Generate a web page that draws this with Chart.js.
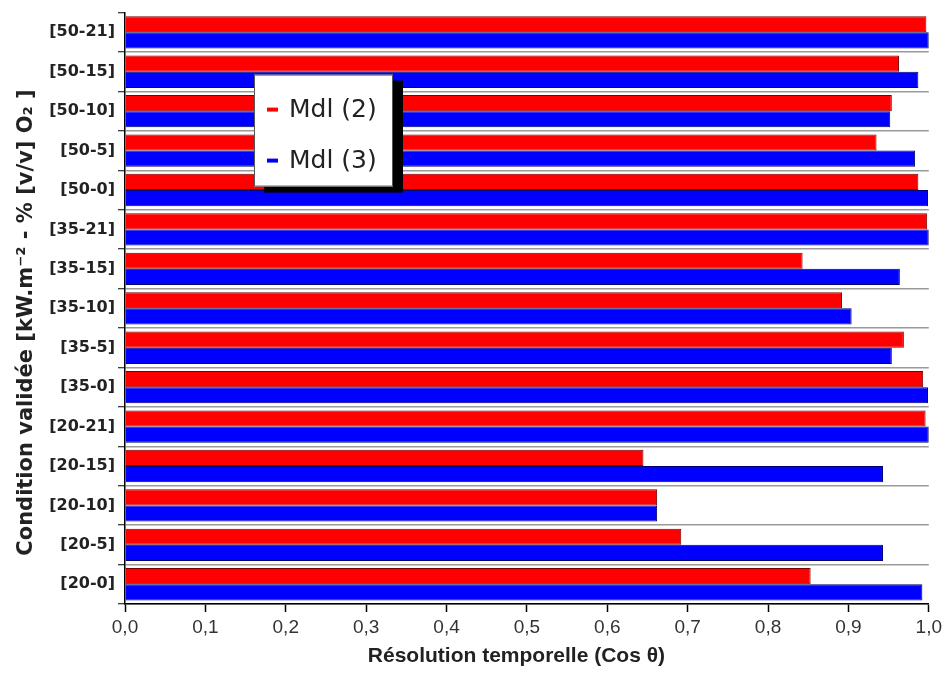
<!DOCTYPE html>
<html><head><meta charset="utf-8">
<script src="https://cdn.jsdelivr.net/npm/chart.js@4/dist/chart.umd.min.js"></script>
<style>html,body{margin:0;padding:0;background:#fff}#wrap{width:946px;height:673px}</style>
</head><body><div id="wrap"><canvas id="c" width="946" height="673"></canvas></div>
<script>
const categories = ['[50-21]','[50-15]','[50-10]','[50-5]','[50-0]','[35-21]','[35-15]','[35-10]','[35-5]','[35-0]','[20-21]','[20-15]','[20-10]','[20-5]','[20-0]'];
const seriesNames = ['Mdl (2)', 'Mdl (3)'];
const mdl2 = [0.997, 0.963, 0.954, 0.935, 0.987, 0.998, 0.843, 0.892, 0.969, 0.993, 0.996, 0.645, 0.662, 0.692, 0.853];
const mdl3 = [1.000, 0.987, 0.952, 0.983, 0.999, 1.000, 0.964, 0.904, 0.954, 0.999, 1.000, 0.943, 0.662, 0.943, 0.992];
const xTickLabels = ['0,0','0,1','0,2','0,3','0,4','0,5','0,6','0,7','0,8','0,9','1,0'];
const xTitle = 'Résolution temporelle (Cos θ)';
const yTitle = 'Condition validée [kW.m⁻² - % [v/v] O₂ ]';

const legendPlugin = {
  id: 'boxLegend',
  afterDraw(chart) {
    const ctx = chart.ctx, a = chart.chartArea;
    const x = a.left + 129, y = a.top + 62, w = 139, h = 112;
    ctx.save();
    ctx.fillStyle = '#000';
    ctx.fillRect(x + 10, y + 6, w, h);
    ctx.fillStyle = '#fff';
    ctx.fillRect(x, y, w, h);
    ctx.strokeStyle = '#555';
    ctx.lineWidth = 1;
    ctx.strokeRect(x + 0.5, y + 0.5, w - 1, h - 1);
    ctx.font = '25px "DejaVu Sans", sans-serif';
    ctx.textBaseline = 'middle';
    chart.data.datasets.forEach((ds, i) => {
      const cy = y + 35 + i * 51;
      ctx.fillStyle = ds.backgroundColor;
      ctx.fillRect(x + 13, cy - 2, 11, 4);
      ctx.fillStyle = '#222';
      ctx.fillText(ds.label, x + 35, cy + 1);
    });
    ctx.restore();
  }
};

const axisTitlePlugin = {
  id: 'axisTitles',
  afterDraw(chart) {
    const ctx = chart.ctx, xs = chart.scales.x, ys = chart.scales.y;
    ctx.save();
    ctx.fillStyle = '#222';
    ctx.textAlign = 'center';
    ctx.textBaseline = 'middle';
    ctx.font = 'bold 21px "Liberation Sans", Arial, sans-serif';
    ctx.fillText(xTitle, xs.left + (xs.right - xs.left) * 0.487, xs.bottom - 17);
    ctx.translate(ys.left + 27, ys.top + (ys.bottom - ys.top) * 0.524);
    ctx.rotate(-Math.PI / 2);
    ctx.font = 'bold 21px "DejaVu Sans", sans-serif';
    ctx.fillText(yTitle, 0, 0);
    ctx.restore();
  }
};

new Chart(document.getElementById('c'), {
  type: 'bar',
  data: {
    labels: categories,
    datasets: [
      { label: seriesNames[0], data: mdl2, backgroundColor: '#ff0000', borderColor: '#7a0000', borderWidth: 1, borderSkipped: 'start' },
      { label: seriesNames[1], data: mdl3, backgroundColor: '#0000ff', borderColor: '#000070', borderWidth: 1, borderSkipped: 'start' }
    ]
  },
  options: {
    indexAxis: 'y',
    responsive: false,
    animation: false,
    devicePixelRatio: 1,
    layout: { padding: { left: 0, right: 16, top: 10, bottom: 0 } },
    datasets: { bar: { categoryPercentage: 0.82, barPercentage: 1.0 } },
    plugins: { legend: { display: false }, tooltip: { enabled: false } },
    scales: {
      x: {
        type: 'linear', min: 0, max: 1,
        afterFit(s) { s.height = 69; },
        ticks: {
          stepSize: 0.1,
          callback: (v) => xTickLabels[Math.round(v * 10)],
          font: { family: '"Liberation Sans", Arial, sans-serif', size: 19 },
          color: '#333', padding: 4, maxRotation: 0
        },
        grid: { drawOnChartArea: false, tickLength: 8, tickColor: '#000', tickWidth: 1.5 },
        border: { display: true, color: '#000', width: 1.5 },
        title: { display: false }
      },
      y: {
        type: 'category',
        afterFit(s) { s.width = 125; },
        ticks: {
          font: { family: '"DejaVu Sans", sans-serif', size: 16, weight: 'bold' },
          color: '#222', padding: 3
        },
        grid: {
          offset: true, drawOnChartArea: true,
          color: (c) => (c.index === 0 ? 'rgba(0,0,0,0)' : '#9a9a9a'),
          lineWidth: 1.5, tickLength: 7, tickColor: '#000', tickWidth: 1
        },
        border: { display: true, color: '#000', width: 1.5 },
        title: { display: false }
      }
    }
  },
  plugins: [legendPlugin, axisTitlePlugin]
});
</script></body></html>
